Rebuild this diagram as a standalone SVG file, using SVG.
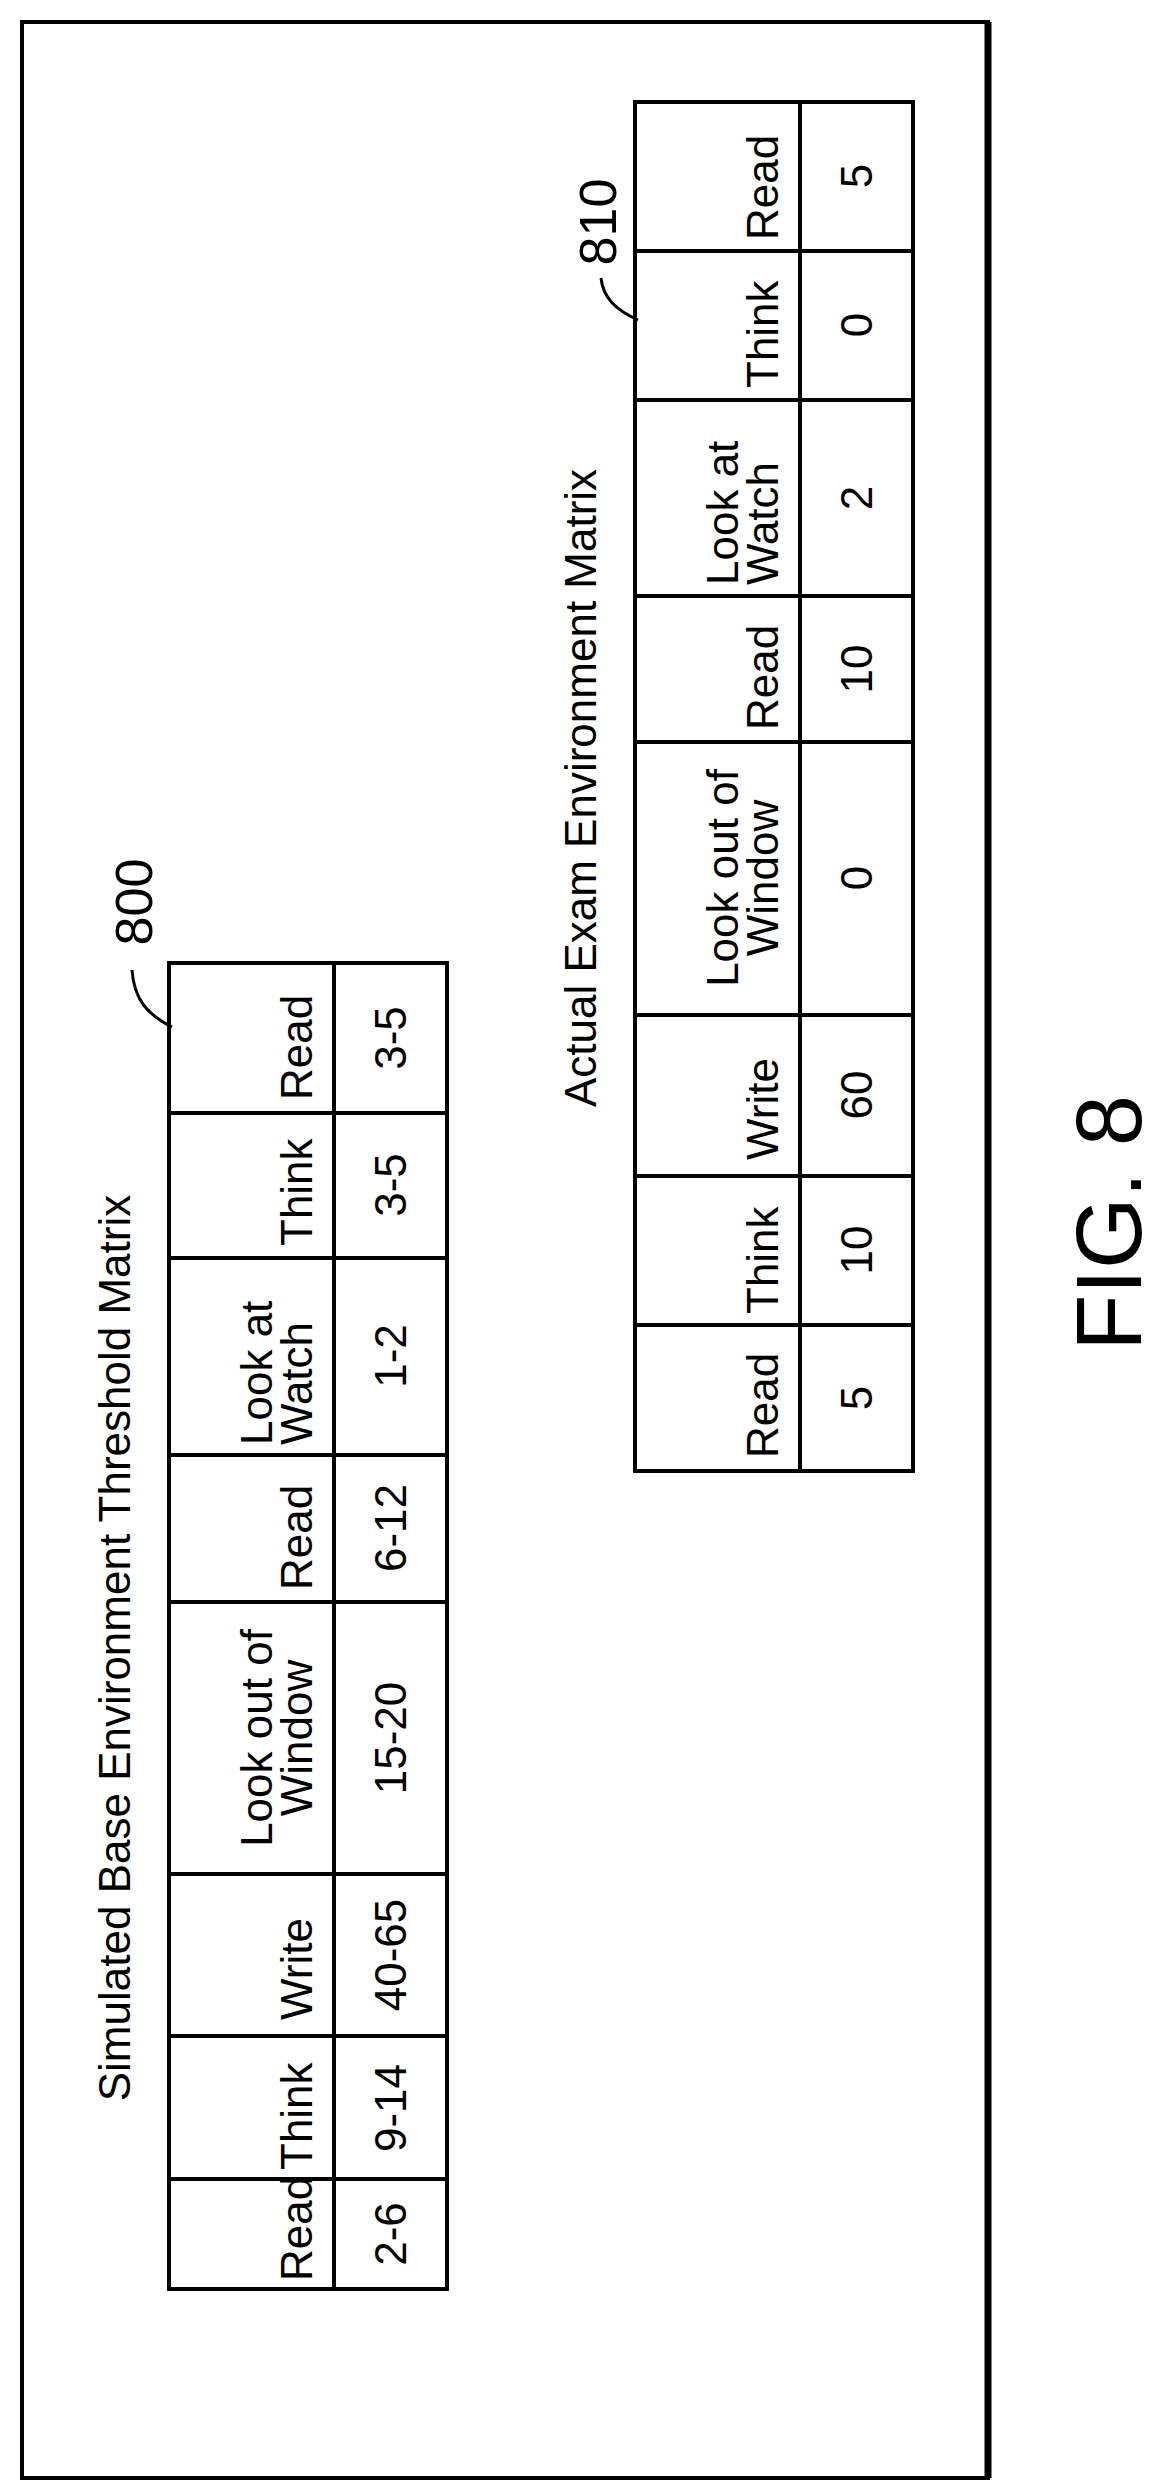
<svg xmlns="http://www.w3.org/2000/svg" width="1160" height="2492" viewBox="0 0 1160 2492">
<style>
.t{font-family:"Liberation Sans",Arial,sans-serif;font-size:44px;fill:#000}
.g{fill:none;stroke:#000;stroke-width:4}
.l{fill:none;stroke:#000;stroke-width:3}
</style>
<rect width="1160" height="2492" fill="#fff"/>
<rect x="22" y="22" width="966" height="2456" class="g"/>
<line x1="988" y1="22" x2="988" y2="2478" stroke="#000" stroke-width="7"/>
<g id="m800">
<rect x="169" y="963" width="278" height="1326" class="g"/>
<line x1="334" y1="963" x2="334" y2="2289" class="g"/>
<path class="g" d="M169,1113H447M169,1258H447M169,1455H447M169,1602H447M169,1874H447M169,2036H447M169,2179H447"/>
<text class="t" transform="translate(130,1648) rotate(-90)" text-anchor="middle" font-size="48">Simulated Base Environment Threshold Matrix</text>
<g class="t">
<text transform="translate(312,2281) rotate(-90)">Read</text>
<text transform="translate(312,2170) rotate(-90)">Think</text>
<text transform="translate(312,2020) rotate(-90)">Write</text>
<text transform="translate(272,1738) rotate(-90)" text-anchor="middle">Look out of</text>
<text transform="translate(312,1738) rotate(-90)" text-anchor="middle">Window</text>
<text transform="translate(312,1590) rotate(-90)">Read</text>
<text transform="translate(272,1445) rotate(-90)">Look at</text>
<text transform="translate(312,1445) rotate(-90)">Watch</text>
<text transform="translate(312,1246) rotate(-90)">Think</text>
<text transform="translate(312,1100) rotate(-90)">Read</text>
</g>
<g class="t" text-anchor="middle">
<text transform="translate(406,2234) rotate(-90)">2-6</text>
<text transform="translate(406,2108) rotate(-90)">9-14</text>
<text transform="translate(406,1955) rotate(-90)">40-65</text>
<text transform="translate(406,1738) rotate(-90)">15-20</text>
<text transform="translate(406,1528) rotate(-90)">6-12</text>
<text transform="translate(406,1356) rotate(-90)">1-2</text>
<text transform="translate(406,1185) rotate(-90)">3-5</text>
<text transform="translate(406,1038) rotate(-90)">3-5</text>
</g>
</g>
<g id="m810">
<rect x="635" y="102" width="278" height="1369" class="g"/>
<line x1="800" y1="102" x2="800" y2="1471" class="g"/>
<path class="g" d="M635,251H913M635,400H913M635,596H913M635,742H913M635,1015H913M635,1176H913M635,1325H913"/>
<text class="t" transform="translate(596,788) rotate(-90)" text-anchor="middle" font-size="48">Actual Exam Environment Matrix</text>
<g class="t">
<text transform="translate(778,1458) rotate(-90)">Read</text>
<text transform="translate(778,1314) rotate(-90)">Think</text>
<text transform="translate(778,1160) rotate(-90)">Write</text>
<text transform="translate(738,878) rotate(-90)" text-anchor="middle">Look out of</text>
<text transform="translate(778,878) rotate(-90)" text-anchor="middle">Window</text>
<text transform="translate(778,730) rotate(-90)">Read</text>
<text transform="translate(738,585) rotate(-90)">Look at</text>
<text transform="translate(778,585) rotate(-90)">Watch</text>
<text transform="translate(778,388) rotate(-90)">Think</text>
<text transform="translate(778,240) rotate(-90)">Read</text>
</g>
<g class="t" text-anchor="middle">
<text transform="translate(872,1398) rotate(-90)">5</text>
<text transform="translate(872,1250) rotate(-90)">10</text>
<text transform="translate(872,1095) rotate(-90)">60</text>
<text transform="translate(872,878) rotate(-90)">0</text>
<text transform="translate(872,669) rotate(-90)">10</text>
<text transform="translate(872,498) rotate(-90)">2</text>
<text transform="translate(872,325) rotate(-90)">0</text>
<text transform="translate(872,176) rotate(-90)">5</text>
</g>
</g>
<g id="connectors">
<path class="l" d="M172,1027 C148,1015 134,1000 132,970"/>
<path class="l" d="M638,320 C616,310 603,298 601,278"/>
</g>
<g class="t">
<text transform="translate(152,902) rotate(-90)" text-anchor="middle" font-size="52">800</text>
<text transform="translate(616,222) rotate(-90)" text-anchor="middle" font-size="52">810</text>
<text transform="translate(1141,1223) rotate(-90)" text-anchor="middle" font-size="92">FIG. 8</text>
</g>
</svg>
